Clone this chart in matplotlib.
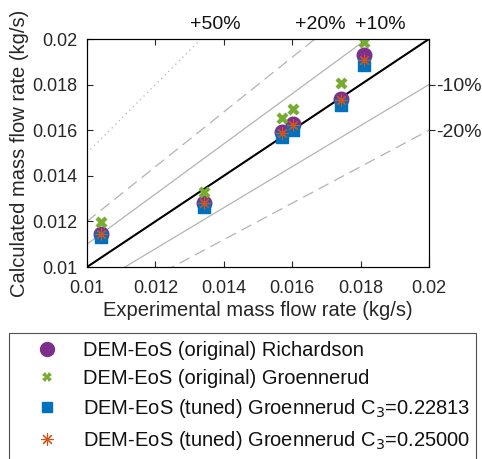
import numpy as np
import matplotlib.pyplot as plt
from matplotlib.lines import Line2D

plt.rcParams['font.family'] = ['Liberation Sans', 'DejaVu Sans']

# experimental mass flow rate (kg/s)
x_exp = [0.0104, 0.01342, 0.01571, 0.01601, 0.01742, 0.0181]
# calculated mass flow rates (kg/s)
richardson = [0.01143, 0.01279, 0.01592, 0.01626, 0.01735, 0.01931]
groen_orig = [0.01199, 0.01328, 0.01652, 0.01692, 0.01806, 0.01987]
groen_tuned1 = [0.0113, 0.01262, 0.01571, 0.01601, 0.01711, 0.01886]
groen_tuned2 = [0.01143, 0.01279, 0.01588, 0.01621, 0.01732, 0.01908]

labels = ['DEM-EoS (original) Richardson',
          'DEM-EoS (original) Groennerud',
          'DEM-EoS (tuned) Groennerud C$_3$=0.22813',
          'DEM-EoS (tuned) Groennerud C$_3$=0.25000']

purple = (0.494, 0.184, 0.556)
green = (0.466, 0.674, 0.188)
blue = (0.0, 0.447, 0.741)
orange = (0.85, 0.325, 0.098)
gray = (0.7, 0.7, 0.7)
dark = '#262626'

fig = plt.figure(figsize=(4.82, 4.59), dpi=100)
ax = fig.add_axes([0.1805, 0.4183, 0.7095, 0.4967])

lo, hi = 0.01, 0.02
xx = np.array([lo, hi])
ax.plot(xx, xx, color='k', lw=1.5, zorder=2)
ax.plot(xx, 1.1 * xx, color=gray, lw=0.9, zorder=1)
ax.plot(xx, 0.9 * xx, color=gray, lw=0.9, zorder=1)
ax.plot(xx, 1.2 * xx, color=gray, lw=0.9, ls=(0, (9, 5)), zorder=1)
ax.plot(xx, 0.8 * xx, color=gray, lw=0.9, ls=(0, (9, 5)), zorder=1)
ax.plot(xx, 1.5 * xx, color=gray, lw=0.9, ls=(0, (1, 3)), zorder=1)

ax.scatter(x_exp, richardson, s=110, marker='o', color=purple, zorder=3)
ax.scatter(x_exp, groen_orig, s=75, marker='X', color=green, linewidths=0, zorder=3)
ax.scatter(x_exp, groen_tuned1, s=70, marker='s', color=blue, zorder=3)
ax.scatter(x_exp, groen_tuned2, s=65, marker=(8, 2, 0), color=orange, linewidths=0.8, zorder=4)

ax.set_xlim(lo, hi)
ax.set_ylim(lo, hi)
ticks = np.arange(0.01, 0.0201, 0.002)
ax.set_xticks(ticks)
ax.set_yticks(ticks)
ax.set_xticklabels(['%g' % round(t, 3) for t in ticks])
ax.set_yticklabels(['%g' % round(t, 3) for t in ticks])
ax.tick_params(direction='in', top=True, right=False, length=4, labelsize=13,
               colors=dark, width=0.8)
ax.tick_params(axis='x', pad=9)
ax.tick_params(axis='y', pad=7)
for s in ax.spines.values():
    s.set_color(dark)
    s.set_linewidth(0.8)
ax.set_xlabel('Experimental mass flow rate (kg/s)', fontsize=14.5, color=dark, labelpad=3)
ax.set_ylabel('Calculated mass flow rate (kg/s)', fontsize=14.5, color=dark, labelpad=2)

# right-hand labels for -10 % / -20 %
ax2 = ax.twinx()
ax2.set_ylim(lo, hi)
ax2.set_yticks([0.018, 0.016])
ax2.set_yticklabels(['-10%', '-20%'])
ax2.tick_params(direction='out', length=4, labelsize=14, colors=dark, width=0.8, pad=1)

# top labels for +50 % / +20 % / +10 %
for xt, txt in [(0.01375, '+50%'), (0.01683, '+20%'), (0.01857, '+10%')]:
    ax.text(xt, 0.02025, txt, ha='center', va='bottom', fontsize=14, color='#111111')

handles = [
    Line2D([], [], ls='none', marker='o', ms=10, color=purple),
    Line2D([], [], ls='none', marker='X', ms=7, color=green, mew=0),
    Line2D([], [], ls='none', marker='s', ms=7, color=blue),
    Line2D([], [], ls='none', marker=(8, 2, 0), ms=9, color=orange, mew=0.8),
]
leg = fig.legend(handles, labels, loc='upper left', bbox_to_anchor=(0.019, 0.274, 0.968, 0.0),
                 mode='expand', frameon=True, fancybox=False, fontsize=14.5,
                 handlelength=3.0, handletextpad=0.25, borderpad=0.4, labelspacing=0.45,
                 borderaxespad=0)
leg.get_frame().set_edgecolor(dark)
leg.get_frame().set_linewidth(0.8)
for t in leg.get_texts():
    t.set_color('#111111')

fig.savefig('out.png', dpi=100)
